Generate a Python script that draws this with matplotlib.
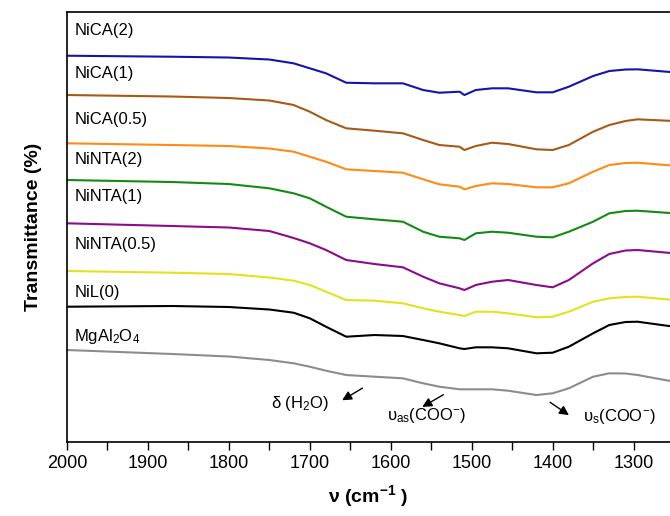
import numpy as np
from matplotlib import pyplot as plt

plt.rcParams['font.family'] = ['Liberation Sans', 'DejaVu Sans']
plt.rcParams['mathtext.fontset'] = 'custom'
plt.rcParams['mathtext.rm'] = 'Liberation Sans'
plt.rcParams['mathtext.it'] = 'Liberation Sans'
plt.rcParams['mathtext.bf'] = 'Liberation Sans:bold'

wavenumber = [2000, 1870, 1800, 1750, 1720, 1700, 1680, 1655, 1620, 1585, 1560, 1540, 1515,
              1509, 1495, 1475, 1455, 1420, 1400, 1380, 1350, 1330, 1310, 1295, 1250]

# stacked transmittance, arbitrary units (offsets included)
nica_2 = [38.63, 38.53, 38.45, 38.25, 37.87, 37.37, 36.87, 35.93, 35.87, 35.87, 35.2, 34.93, 35.03,
          34.7, 35.2, 35.37, 35.37, 34.97, 34.97, 35.53, 36.6, 37.1, 37.25, 37.27, 36.97]
nica_1 = [34.7, 34.55, 34.4, 34.15, 33.7, 33.03, 32.2, 31.37, 31.13, 30.87, 30.2, 29.7, 29.53,
          29.2, 29.6, 29.93, 29.8, 29.27, 29.2, 29.7, 31.03, 31.7, 32.1, 32.27, 32.1]
nica_05 = [29.87, 29.7, 29.6, 29.35, 29.03, 28.53, 28.03, 27.27, 27.1, 26.93, 26.27, 25.77, 25.53,
           25.27, 25.6, 25.87, 25.8, 25.47, 25.47, 25.87, 27.03, 27.7, 27.9, 27.93, 27.63]
ninta_2 = [26.2, 26.0, 25.8, 25.37, 24.87, 24.37, 23.53, 22.53, 22.27, 22.03, 21.03, 20.53, 20.37,
           20.2, 20.87, 21.03, 20.93, 20.53, 20.47, 21.03, 22.03, 22.87, 23.1, 23.13, 22.87]
ninta_1 = [21.87, 21.6, 21.45, 21.1, 20.4, 19.87, 19.2, 18.2, 17.8, 17.47, 16.53, 15.87, 15.37,
           15.2, 15.7, 16.03, 16.2, 15.7, 15.47, 16.2, 17.87, 18.8, 19.15, 19.2, 18.87]
ninta_05 = [17.1, 16.93, 16.8, 16.45, 16.13, 15.7, 15.03, 14.2, 14.13, 13.87, 13.37, 13.03, 12.7,
            12.6, 13.03, 13.03, 12.87, 12.47, 12.53, 13.03, 14.03, 14.37, 14.5, 14.53, 14.2]
nil_0 = [13.53, 13.6, 13.5, 13.25, 12.93, 12.37, 11.53, 10.53, 10.7, 10.6, 10.2, 9.87, 9.37,
         9.3, 9.47, 9.47, 9.37, 8.87, 8.93, 9.53, 10.87, 11.7, 12.0, 12.03, 11.53]
mgal2o4 = [9.2, 8.8, 8.55, 8.2, 7.87, 7.53, 7.13, 6.7, 6.53, 6.37, 5.87, 5.53, 5.27,
           5.27, 5.27, 5.27, 5.13, 4.7, 4.87, 5.37, 6.53, 6.87, 6.85, 6.7, 6.03]

series = [nica_2, nica_1, nica_05, ninta_2, ninta_1, ninta_05, nil_0, mgal2o4]
colors = ['#1414A8', '#A65A14', '#FF8A14', '#148A14', '#8C0A8C', '#E6E01E', '#000000', '#8C8C8C']
labels = ['NiCA(2)', 'NiCA(1)', 'NiCA(0.5)', 'NiNTA(2)', 'NiNTA(1)',
          'NiNTA(0.5)', 'NiL(0)', r'MgAl$_2$O$_4$']
label_y = [41.2, 36.9, 32.3, 28.3, 24.6, 19.8, 15.0, 10.6]


def main():
    fig = plt.figure(figsize=(6.7, 5.16), dpi=100)
    ax = fig.add_axes([0.1, 0.1434, 0.9, 0.8333])

    for ys, c in zip(series, colors):
        ax.plot(wavenumber, ys, color=c, lw=1.5)
    for lab, y in zip(labels, label_y):
        ax.text(1991, y, lab, fontsize=12, va='center', ha='left')

    # band assignments
    arrow = dict(arrowstyle='-|>', color='black', lw=1, mutation_scale=14)
    ax.annotate('', xy=(1663, 4.03), xytext=(1632, 5.53), arrowprops=arrow)
    ax.text(1712, 3.9, r'$\mathregular{\delta}$ (H$_2$O)', fontsize=12, ha='center', va='center')
    ax.annotate('', xy=(1564, 3.37), xytext=(1532, 4.87), arrowprops=arrow)
    ax.text(1605, 2.7, 'υ$_{as}$(COO$^{-}$)', fontsize=12, ha='left', va='center')
    ax.annotate('', xy=(1377, 2.53), xytext=(1406, 4.13), arrowprops=arrow)
    ax.text(1363, 2.6, 'υ$_s$(COO$^{-}$)', fontsize=12, ha='left', va='center')

    ax.set_xlim(2000, 1255)
    ax.set_ylim(0, 43)
    ax.set_xticks(np.arange(2000, 1250, -100))
    ax.set_xticks(np.arange(1950, 1250, -100), minor=True)
    ax.tick_params(axis='x', which='both', direction='out', length=6, width=1, labelsize=13)
    ax.set_yticks([])
    ax.spines['right'].set_visible(False)
    for s in ['left', 'bottom', 'top']:
        ax.spines[s].set_linewidth(1.2)

    ax.set_xlabel(r'ν (cm$^{\mathbf{-1}}$ )', fontsize=14, fontweight='bold', labelpad=8)
    ax.set_ylabel('Transmittance (%)', fontsize=14, fontweight='bold', labelpad=18)

    fig.savefig('out.png', dpi=100)


if __name__ == "__main__":
    main()
